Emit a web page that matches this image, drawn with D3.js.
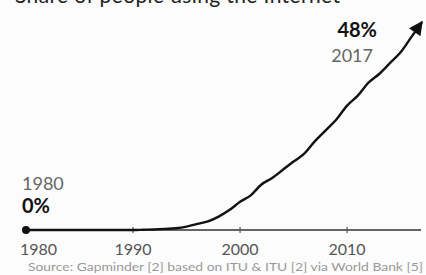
<!DOCTYPE html>
<html>
<head>
<meta charset="utf-8">
<script src="https://cdn.jsdelivr.net/npm/d3@7"></script>
<style>
  body { margin: 0; background: #fcfcfc; }
  svg { display: block; }
</style>
</head>
<body>
<div id="chart"></div>
<script>
// data
const years = d3.range(1980, 2018)
const share = [0, 0, 0, 0, 0, 0, 0, 0, 0, 0, 0,
  0.07, 0.13, 0.25, 0.4, 0.78, 1.4, 2.0, 3.1, 4.6, 6.5,
  8.0, 10.5, 12.0, 13.9, 15.8, 17.6, 20.5, 23.0, 25.5, 28.7,
  31.0, 34.0, 36.0, 38.5, 41.0, 44.5, 48.0]
const tickYears = [1980, 1990, 2000, 2010]

const width = 426,
  height = 275;

const font = "Lato, 'Open Sans', sans-serif"

const svg = d3.select("#chart")
  .append("svg")
  .attr("width", width)
  .attr("height", height)

const x = d3.scaleLinear()
  .domain([1980, 2017])
  .range([26, 422])

const y = d3.scaleLinear()
  .domain([0, 48])
  .range([230, 22])

// title, cut off at the top like in the source image
svg.append("text")
  .attr("x", 15)
  .attr("y", 3)
  .attr("textLength", 325)
  .style("font-family", font)
  .style("font-size", "21px")
  .attr("fill", "#222")
  .text("Share of people using the Internet")

// axis
svg.append("line")
  .attr("x1", x(1980)).attr("x2", 421)
  .attr("y1", y(0)).attr("y2", y(0))
  .attr("stroke", "#333")
  .attr("stroke-width", 1.6)

svg.selectAll("tickMark")
  .data(tickYears.slice(1))
  .join("line")
  .attr("x1", d => x(d)).attr("x2", d => x(d))
  .attr("y1", y(0) - 3).attr("y2", y(0) + 3)
  .attr("stroke", "#555")
  .attr("stroke-width", 1.2)

svg.selectAll("tickLabel")
  .data(tickYears)
  .join("text")
  .attr("x", d => d === 1980 ? 20 : x(d))
  .attr("y", 255)
  .attr("text-anchor", d => d === 1980 ? "start" : "middle")
  .style("font-family", font)
  .style("font-size", "16px")
  .attr("fill", "#555")
  .text(d => d)

// arrow head
svg.append("defs").append("marker")
  .attr("id", "arrow")
  .attr("viewBox", "0 0 10 10")
  .attr("refX", 9).attr("refY", 5)
  .attr("markerUnits", "userSpaceOnUse")
  .attr("markerWidth", 16).attr("markerHeight", 14)
  .attr("orient", "auto")
  .append("path")
  .attr("d", "M0,0L10,5L0,10Z")
  .attr("fill", "#111")

const line = d3.line()
  .x((d, i) => x(years[i]))
  .y(d => y(d))
  .curve(d3.curveMonotoneX)

svg.append("path")
  .datum(share)
  .attr("d", line)
  .attr("fill", "none")
  .attr("stroke", "#111")
  .attr("stroke-width", 2.4)
  .attr("marker-end", "url(#arrow)")

svg.append("circle")
  .attr("cx", x(1980))
  .attr("cy", y(0))
  .attr("r", 4)
  .attr("fill", "#111")

// start and end labels
svg.append("text")
  .attr("x", 22).attr("y", 190)
  .style("font-family", font)
  .style("font-size", "18px")
  .attr("fill", "#666")
  .text(years[0])
svg.append("text")
  .attr("x", 22).attr("y", 213)
  .style("font-family", font)
  .style("font-size", "20px")
  .style("font-weight", "bold")
  .attr("fill", "#111")
  .text(share[0] + "%")

svg.append("text")
  .attr("x", 377).attr("y", 37)
  .attr("text-anchor", "end")
  .style("font-family", font)
  .style("font-size", "20px")
  .style("font-weight", "bold")
  .attr("fill", "#111")
  .text(share[share.length - 1] + "%")
svg.append("text")
  .attr("x", 373).attr("y", 62)
  .attr("text-anchor", "end")
  .style("font-family", font)
  .style("font-size", "18px")
  .attr("fill", "#666")
  .text(years[years.length - 1])

// source
svg.append("text")
  .attr("x", 28).attr("y", 271)
  .attr("textLength", 395)
  .attr("lengthAdjust", "spacingAndGlyphs")
  .style("font-family", font)
  .style("font-size", "11px")
  .attr("fill", "#999")
  .text("Source: Gapminder [2] based on ITU & ITU [2] via World Bank [5]")
</script>
</body>
</html>
